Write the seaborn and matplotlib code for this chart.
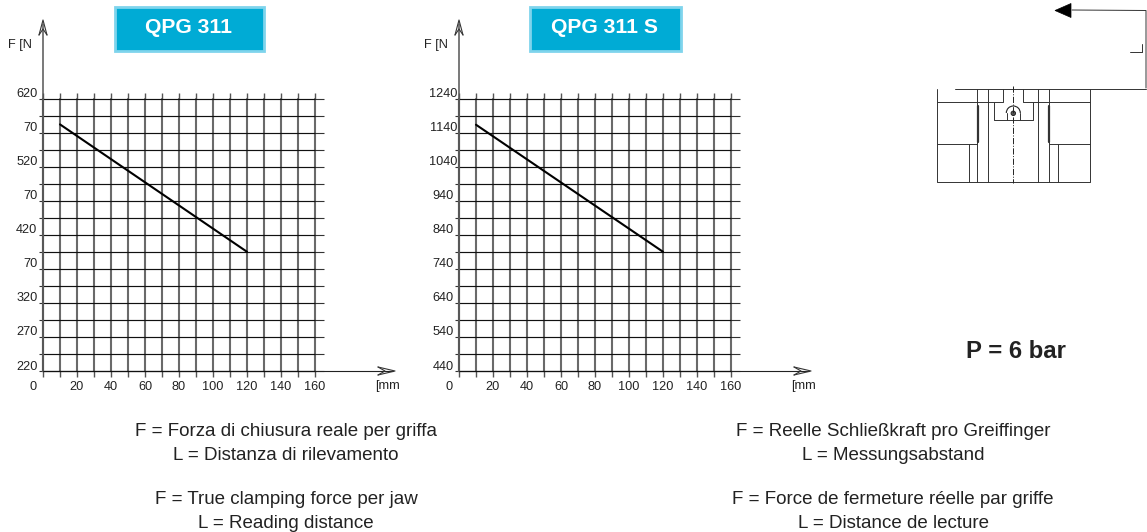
import matplotlib
matplotlib.use("Agg")
import matplotlib.pyplot as plt
import matplotlib.patches as mp
from matplotlib.transforms import ScaledTranslation
import seaborn as sns
import pandas as pd

W, H = 1147, 532
sns.set_style("white")
plt.rcParams['font.family'] = ['Liberation Sans', 'DejaVu Sans']

# data
x_ticks = list(range(0, 170, 10))
x_labels = ['0', '', '20', '', '40', '', '60', '', '80', '', '100', '', '120', '', '140', '', '160']
left_distance = [10, 120]
left_force = [582, 395]
left_y_ticks = list(range(220, 645, 25))
left_labels = ['220', '', '270', '', '320', '', '70', '', '420', '', '70', '', '520', '', '70', '', '620']
right_distance = [10, 120]
right_force = [1163, 790]
right_y_ticks = list(range(440, 1290, 50))
right_labels = ['440', '', '540', '', '640', '', '740', '', '840', '', '940', '', '1040', '', '1140', '', '1240']
titles = ['QPG 311', 'QPG 311 S']
notes_left = [(432, 'F = Forza di chiusura reale per griffa'), (455, 'L = Distanza di rilevamento'),
              (500, 'F = True clamping force per jaw'), (523, 'L = Reading distance')]
notes_right = [(432, 'F = Reelle Schließkraft pro Greiffinger'), (455, 'L = Messungsabstand'),
               (500, 'F = Force de fermeture réelle par griffe'), (523, 'L = Distance de lecture')]

fig = plt.figure(figsize=(W / 100, H / 100), dpi=100, facecolor='white')
ov = fig.add_axes([0, 0, 1, 1], zorder=5)
ov.set_xlim(0, W); ov.set_ylim(H, 0); ov.axis('off'); ov.patch.set_alpha(0)


def shift(t, dx, dy):
    t.set_transform(t.get_transform() + ScaledTranslation(dx / 100, dy / 100, fig.dpi_scale_trans))


def panel(x0, dist, force, yt, yl):
    ax = fig.add_axes([x0 / W, 1 - 371 / H, 272 / W, 272.5 / H])
    df = pd.DataFrame({'L': dist, 'F': force})
    sns.lineplot(data=df, x='L', y='F', color='black', lw=1.5, ax=ax, zorder=4)
    ax.set_xlim(0, 160); ax.set_ylim(yt[0], yt[-1])
    ax.set_xticks(x_ticks, x_labels); ax.set_yticks(yt, yl)
    ax.set_xlabel(''); ax.set_ylabel('')
    ax.grid(True, axis='x', color='#6a6a6a', lw=1.5)
    ax.grid(True, axis='y', color='#111111', lw=0.85)
    ax.set_axisbelow(True)
    ax.tick_params(axis='x', bottom=True, top=True, length=4, width=1.0, color='#555555',
                   labelsize=9.2, labelcolor='#222222', pad=3.5)
    ax.tick_params(axis='y', left=True, right=True, length=3, width=0.8, color='#333333',
                   labelsize=9.2, labelcolor='#222222', pad=1)
    # longer right-hand stubs of the horizontal grid
    for tick in ax.yaxis.get_major_ticks():
        tick.tick2line.set_markersize(6.5)
    fig.canvas.draw()
    for g in ax.get_xgridlines() + ax.get_ygridlines():
        g.set_clip_on(False)
    for t in ax.get_yticklabels():
        t.set_va('baseline')
        shift(t, 4 if len(t.get_text()) == 4 else 0, 1.5)
    shift(ax.get_xticklabels()[0], -10, 0)
    for s in ax.spines.values():
        s.set_visible(False)
    ax.spines['left'].set_visible(True); ax.spines['left'].set_color('#666666'); ax.spines['left'].set_linewidth(1.5)
    ax.spines['bottom'].set_visible(True); ax.spines['bottom'].set_color('#111111'); ax.spines['bottom'].set_linewidth(0.85)
    # axis arrows
    ov.plot([x0, x0], [371, 24], color='#555555', lw=1.1)
    ov.plot([x0 - 4, x0, x0 + 4], [35, 20, 35], color='#333333', lw=0.8)
    ov.plot([x0 - 4, x0, x0 + 4], [35, 29, 35], color='#333333', lw=0.8)
    ov.plot([x0 + 272, x0 + 350], [371, 371], color='#222222', lw=0.8)
    ov.plot([x0 + 335, x0 + 352, x0 + 335], [367, 371, 375], color='#333333', lw=0.8)
    ov.plot([x0 + 335, x0 + 342, x0 + 335], [367, 371, 375], color='#333333', lw=0.8)
    ov.text(x0 - 35, 48, 'F [N', fontsize=9.2, color='#222222', va='baseline')
    ov.text(x0 + 332, 389, '[mm', fontsize=9.2, color='#222222', va='baseline')


panel(43, left_distance, left_force, left_y_ticks, left_labels)
panel(459, right_distance, right_force, right_y_ticks, right_labels)

# title boxes
for (bx, bw), title in zip([(114.5, 149.5), (530, 150.5)], titles):
    ov.add_patch(mp.Rectangle((bx, 7), bw, 43.5, fc='#00ABD5', ec='#7FD4EC', lw=2))
    ov.text(bx + bw / 2 - 0.5, 27.5, title, color='white', fontsize=15.2, fontweight='bold', ha='center', va='center')

ov.text(1016, 351, 'P = 6 bar', fontsize=17.2, fontweight='bold', color='#222222', ha='center', va='center')

for cx, notes in ((286, notes_left), (893, notes_right)):
    for y, s in notes:
        ov.text(cx, y, s, fontsize=13.5, color='#222222', ha='center', va='center')

# technical sketch
ink = dict(color='#333333', lw=0.7)
sketch = [
    ([937.3, 937.3, 1090.3, 1090.3], [89, 182.3, 182.3, 89]),
    ([937.3, 1003.3, 1003.3], [101.7, 101.7, 89]), ([1023.3, 1023.3, 1090.3], [89, 101.7, 101.7]),
    ([937.3, 977.3], [144.3, 144.3]), ([1049.3, 1090.3], [144.3, 144.3]),
    ([969.3, 969.3], [144.3, 182.3]), ([1057.7, 1057.7], [144.3, 182.3]),
    ([977.3, 977.3], [89, 182.3]), ([988.3, 988.3], [89, 182.3]),
    ([1038.3, 1038.3], [89, 182.3]), ([1049.3, 1049.3], [89, 182.3]),
    ([994, 994, 1032.7, 1032.7], [101.7, 120, 120, 101.7]),
    ([1006.5, 1006.5], [113, 120]), ([1020, 1020], [113, 120]),
    ([955, 1146], [88.5, 88.5]), ([1072, 1146, 1146], [10, 10.5, 88]),
    ([1141.7, 1141.7], [44, 52]), ([1130, 1141.7], [52, 52]),
]
for xs, ys in sketch:
    ov.plot(xs, ys, **ink)
ov.plot([1013.3, 1013.3], [86, 183], color='#222222', lw=0.7, ls='-.')
ov.plot([977.5, 977.5], [106, 142], color='#333333', lw=1.6)
ov.plot([1049.3, 1049.3], [106, 142], color='#333333', lw=1.6)
ov.add_patch(mp.Arc((1013.3, 113), 14, 14, theta1=180, theta2=360, color='#222222', lw=0.8))
ov.add_patch(mp.Circle((1013.3, 113.3), 2.2, fc='#555555', ec='#222222', lw=0.7))
ov.add_patch(mp.Polygon([(1055, 10.5), (1071, 3.5), (1071, 17.5)], fc='black', ec='black', lw=0.5))

fig.savefig('out.png', dpi=100)
